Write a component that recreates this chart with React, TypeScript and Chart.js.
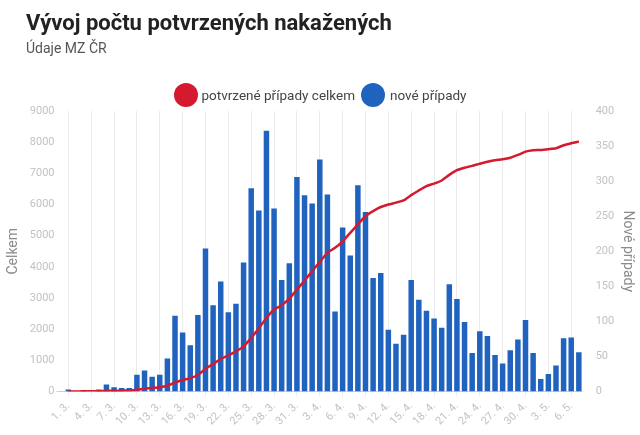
import React, { useEffect, useRef } from "react";
import { Chart, registerables } from "chart.js";

Chart.register(...registerables);

const dates = [
  "1. 3.", "2. 3.", "3. 3.", "4. 3.", "5. 3.", "6. 3.", "7. 3.", "8. 3.", "9. 3.", "10. 3.",
  "11. 3.", "12. 3.", "13. 3.", "14. 3.", "15. 3.", "16. 3.", "17. 3.", "18. 3.", "19. 3.", "20. 3.",
  "21. 3.", "22. 3.", "23. 3.", "24. 3.", "25. 3.", "26. 3.", "27. 3.", "28. 3.", "29. 3.", "30. 3.",
  "31. 3.", "1. 4.", "2. 4.", "3. 4.", "4. 4.", "5. 4.", "6. 4.", "7. 4.", "8. 4.", "9. 4.",
  "10. 4.", "11. 4.", "12. 4.", "13. 4.", "14. 4.", "15. 4.", "16. 4.", "17. 4.", "18. 4.", "19. 4.",
  "20. 4.", "21. 4.", "22. 4.", "23. 4.", "24. 4.", "25. 4.", "26. 4.", "27. 4.", "28. 4.", "29. 4.",
  "30. 4.", "1. 5.", "2. 5.", "3. 5.", "4. 5.", "5. 5.", "6. 5.", "7. 5.",
];

// nové případy (right axis, 0–400)
const newCases = [
  3, 0, 2, 0, 3, 10, 6, 5, 5, 24,
  30, 21, 24, 47, 108, 84, 66, 109, 204, 123,
  157, 113, 125, 184, 290, 258, 372, 261, 159, 183,
  306, 280, 268, 331, 281, 114, 234, 194, 294, 256,
  162, 169, 88, 68, 81, 159, 131, 115, 104, 91,
  153, 132, 99, 55, 86, 79, 52, 40, 59, 74,
  102, 55, 18, 25, 37, 76, 77, 56,
];

// potvrzené případy celkem (left axis, 0–9000)
const totalCases = [
  3, 3, 5, 5, 8, 19, 26, 31, 38, 60,
  90, 110, 135, 185, 290, 370, 430, 530, 730, 880,
  1040, 1160, 1290, 1450, 1720, 2030, 2360, 2630, 2770, 2980,
  3270, 3560, 3860, 4160, 4450, 4610, 4820, 5090, 5360, 5630,
  5790, 5920, 6000, 6060, 6130, 6300, 6450, 6590, 6670, 6770,
  6950, 7100, 7180, 7240, 7310, 7370, 7420, 7450, 7500, 7590,
  7695, 7740, 7750, 7775, 7805, 7900, 7965, 8020,
];

const leftMax = 9000;
const leftStep = 1000;
const rightMax = 400;
const rightStep = 50;

const RED = "#d5192e";
const BLUE = "#1f63bf";
const FONT = "Roboto, 'Noto Sans', sans-serif";

export default function App() {
  const ref = useRef<HTMLCanvasElement>(null);

  useEffect(() => {
    Chart.defaults.font.family = FONT;
    const chart = new Chart(ref.current as HTMLCanvasElement, {
      type: "bar",
      data: {
        labels: dates,
        datasets: [
          {
            type: "line",
            label: "potvrzené případy celkem",
            data: totalCases,
            yAxisID: "y",
            borderColor: RED,
            backgroundColor: RED,
            borderWidth: 2.5,
            pointRadius: 0,
            tension: 0.2,
          } as any,
          {
            type: "bar",
            label: "nové případy",
            data: newCases,
            yAxisID: "y1",
            backgroundColor: BLUE,
            categoryPercentage: 1,
            barPercentage: 0.72,
          },
        ],
      },
      options: {
        responsive: false,
        animation: false,
        layout: { padding: { top: 111, left: 5, right: 4, bottom: 4 } },
        plugins: { legend: { display: false }, tooltip: { enabled: false } },
        scales: {
          x: {
            offset: true,
            grid: { offset: false, color: "#ebebeb", tickLength: 5 },
            border: { display: false },
            ticks: {
              autoSkip: false,
              maxRotation: 45,
              minRotation: 45,
              padding: 3,
              color: "#c2c2c2",
              font: { size: 11 },
              callback: (_v: any, i: number) => (i % 3 === 0 ? dates[i] : null),
            },
          },
          y: {
            position: "left",
            min: 0,
            max: leftMax,
            ticks: {
              stepSize: leftStep,
              color: "#c2c2c2",
              font: { size: 11 },
              padding: 2,
              callback: (v: any) => String(v),
            },
            grid: {
              color: (ctx: any) => (ctx.tick && ctx.tick.value === 0 ? "#cfcfcf" : "rgba(0,0,0,0)"),
              tickLength: 8,
            },
            border: { display: false },
            title: { display: true, text: "Celkem", color: "#8a8a8a", font: { size: 14 }, padding: { top: 0, bottom: 6 } },
          },
          y1: {
            position: "right",
            min: 0,
            max: rightMax,
            ticks: { stepSize: rightStep, color: "#c2c2c2", font: { size: 11 }, padding: 5, callback: (v: any) => String(v) },
            grid: { display: false },
            border: { display: false },
            title: { display: true, text: "Nové případy", color: "#8a8a8a", font: { size: 14 }, padding: { top: 0, bottom: 0 } },
          },
        },
      },
    } as any);
    return () => chart.destroy();
  }, []);

  return (
    <div style={{ position: "absolute", left: 0, top: 0, width: 640, height: 435, background: "#fff", overflow: "hidden", fontFamily: FONT }}>
      <canvas ref={ref} width={640} height={435} style={{ position: "absolute", left: 0, top: 0, display: "block" }} />
      <div style={{ position: "absolute", left: 26, top: 10, fontSize: 22, fontWeight: 700, color: "#222", whiteSpace: "nowrap" }}>
        Vývoj počtu potvrzených nakažených
      </div>
      <div style={{ position: "absolute", left: 26, top: 40, fontSize: 14, color: "#555", whiteSpace: "nowrap" }}>
        Údaje MZ ČR
      </div>
      <div style={{ position: "absolute", left: 0, width: 640, top: 83, display: "flex", justifyContent: "center", alignItems: "center", fontSize: 13.5, color: "#444" }}>
        <span style={{ display: "inline-block", width: 24, height: 24, borderRadius: "50%", background: RED, marginRight: 4 }} />
        <span style={{ marginRight: 6 }}>potvrzené případy celkem</span>
        <span style={{ display: "inline-block", width: 24, height: 24, borderRadius: "50%", background: BLUE, marginRight: 5 }} />
        <span>nové případy</span>
      </div>
    </div>
  );
}
